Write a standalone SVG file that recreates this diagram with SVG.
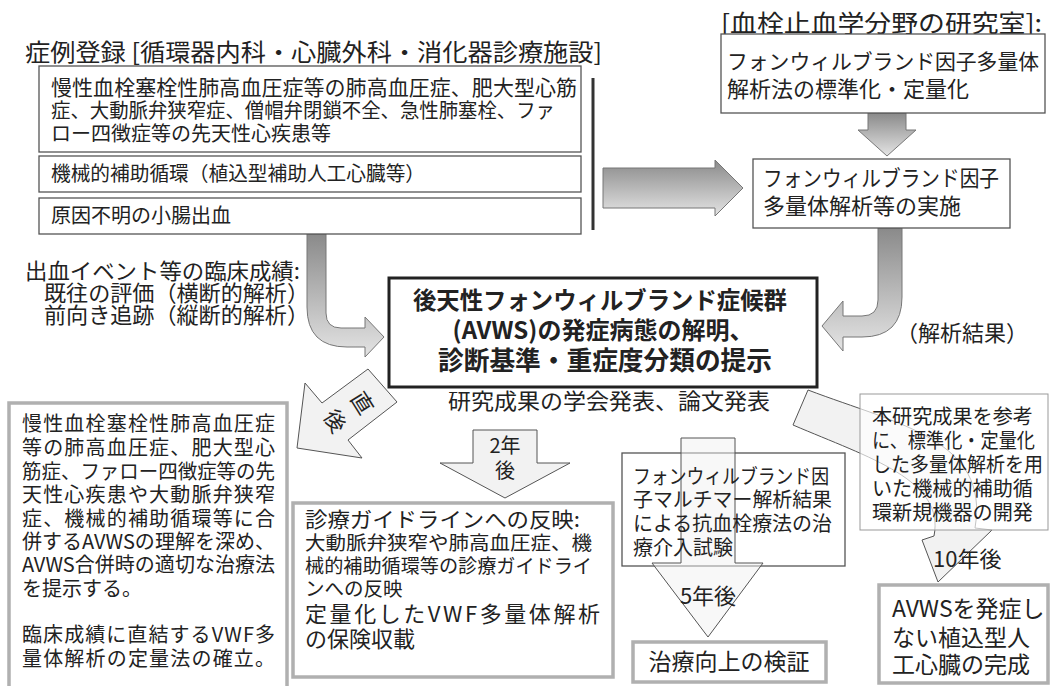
<svg xmlns="http://www.w3.org/2000/svg" width="1052" height="686" viewBox="0 0 1052 686">
<defs>
<style>
text{font-family:"Noto Sans CJK JP","Noto Sans",sans-serif;fill:#222}
.t20{font-size:20px}
.t22{font-size:22px}
.t24{font-size:24px}
.bold{font-weight:bold}
.box{fill:#fff;stroke:#555;stroke-width:1.3}
.gbox{fill:#fff;stroke:#b0b0b0;stroke-width:3.5}
.cbox{fill:#fff;stroke:#222;stroke-width:3}
.larr{fill:#f2f2f2;stroke:#555;stroke-width:1}
.garr{stroke:#777;stroke-width:1}
</style>
<linearGradient id="gv" x1="0" y1="0" x2="0" y2="1">
<stop offset="0" stop-color="#8a8a8a"/>
<stop offset="1" stop-color="#e4e4e4"/>
</linearGradient>
</defs>

<g id="connectors">
<path class="garr" fill="url(#gv)" d="M868,113 H906 V130 H916 L887,156 L858,130 H868 Z"/>
<path class="garr" fill="url(#gv)" d="M603,168 H715 V160 L743,188 L715,216 V208 H603 Z"/>
<path class="garr" fill="url(#gv)" d="M307,234 H326 V313 Q326,328 341,328 H365 V317 L384,337 L365,357 V347 H347 Q307,347 307,307 Z"/>
<path class="garr" fill="url(#gv)" d="M878,228 H902 V297 Q902,337 862,337 H843 V351 L822,326 L843,301 V316 H862 Q878,316 878,300 Z"/>
<path class="larr" d="M297,448 L305,383 L322,403 L368,369 L397,402 L348,440 L362,458 Z"/>
<path class="larr" d="M473,430 H537 V463 H570 L505,498 L440,463 H473 Z"/>
<path class="larr" d="M808,390 C900,425 990,440 975,528 L992,530 L938,582 L922,540 L934,536 C945,480 870,458 793,425 Z"/>
</g>

<text class="t24" x="25" y="61" textLength="577" lengthAdjust="spacingAndGlyphs">症例登録 [循環器内科・心臓外科・消化器診療施設]</text>
<text class="t24" x="721" y="32" textLength="321" lengthAdjust="spacingAndGlyphs">[血栓止血学分野の研究室]:</text>

<g id="case1">
<rect class="box" x="39" y="66" width="542" height="86"/>
<text x="51" y="95" font-size="21" textLength="526" lengthAdjust="spacing">慢性血栓塞栓性肺高血圧症等の肺高血圧症、肥大型心筋</text>
<text class="t20" x="51" y="118" textLength="504" lengthAdjust="spacingAndGlyphs">症、大動脈弁狭窄症、僧帽弁閉鎖不全、急性肺塞栓、ファ</text>
<text class="t20" x="51" y="141">ロー四徴症等の先天性心疾患等</text>
</g>
<g id="case2">
<rect class="box" x="39" y="156" width="542" height="36"/>
<text class="t20" x="51" y="181" textLength="374" lengthAdjust="spacingAndGlyphs">機械的補助循環（植込型補助人工心臓等）</text>
</g>
<g id="case3">
<rect class="box" x="39" y="198" width="542" height="36"/>
<text class="t20" x="51" y="223">原因不明の小腸出血</text>
</g>
<line x1="593" y1="78" x2="593" y2="230" stroke="#333" stroke-width="3"/>

<g id="lab1">
<rect class="box" x="721" y="34" width="324" height="79"/>
<text x="727" y="69" font-size="21" textLength="312" lengthAdjust="spacingAndGlyphs">フォンウィルブランド因子多量体</text>
<text class="t22" x="727" y="97">解析法の標準化・定量化</text>
</g>
<g id="lab2">
<rect class="box" x="753" y="159" width="257" height="69"/>
<text class="t22" x="763" y="186" textLength="236" lengthAdjust="spacingAndGlyphs">フォンウィルブランド因子</text>
<text class="t22" x="763" y="214">多量体解析等の実施</text>
</g>

<g id="clinical">
<text class="t22" x="25" y="279" textLength="275" lengthAdjust="spacingAndGlyphs">出血イベント等の臨床成績:</text>
<text class="t22" x="44" y="301" textLength="265" lengthAdjust="spacingAndGlyphs">既往の評価（横断的解析）</text>
<text class="t22" x="44" y="323" textLength="265" lengthAdjust="spacingAndGlyphs">前向き追跡（縦断的解析）</text>
</g>
<text class="t22" x="896" y="341">（解析結果）</text>

<g id="center">
<rect class="cbox" x="389" y="278" width="428" height="109"/>
<text class="t24 bold" x="413" y="309" textLength="374" lengthAdjust="spacingAndGlyphs">後天性フォンウィルブランド症候群</text>
<text class="t24 bold" x="603" y="339" text-anchor="middle">(AVWS)の発症病態の解明、</text>
<text class="bold" x="438" y="370" font-size="26" textLength="334" lengthAdjust="spacingAndGlyphs">診断基準・重症度分類の提示</text>
</g>
<text class="t22" x="448" y="409" textLength="322" lengthAdjust="spacingAndGlyphs">研究成果の学会発表、論文発表</text>

<text class="t22" transform="translate(362,403) rotate(58)" text-anchor="middle" y="8">直</text>
<text class="t22" transform="translate(335,421) rotate(58)" text-anchor="middle" y="8">後</text>
<text class="t20" x="505" y="453" text-anchor="middle">2年</text>
<text class="t20" x="505" y="478" text-anchor="middle">後</text>

<g id="out1">
<rect class="gbox" x="9" y="403" width="278" height="300"/>
<text class="t20" x="22" y="431" textLength="253" lengthAdjust="spacing">慢性血栓塞栓性肺高血圧症</text>
<text class="t20" x="22" y="455" textLength="253" lengthAdjust="spacing">等の肺高血圧症、肥大型心</text>
<text class="t20" x="22" y="479" textLength="253" lengthAdjust="spacingAndGlyphs">筋症、ファロー四徴症等の先</text>
<text class="t20" x="22" y="502" textLength="253" lengthAdjust="spacing">天性心疾患や大動脈弁狭窄</text>
<text class="t20" x="22" y="526" textLength="253" lengthAdjust="spacing">症、機械的補助循環等に合</text>
<text class="t20" x="22" y="549" textLength="253" lengthAdjust="spacing">併するAVWSの理解を深め、</text>
<text class="t20" x="22" y="572" textLength="253" lengthAdjust="spacingAndGlyphs">AVWS合併時の適切な治療法</text>
<text class="t20" x="22" y="596">を提示する。</text>
<text class="t20" x="22" y="642" textLength="253" lengthAdjust="spacing">臨床成績に直結するVWF多</text>
<text class="t20" x="22" y="666" textLength="253" lengthAdjust="spacing">量体解析の定量法の確立。</text>
</g>

<g id="out2">
<rect class="gbox" x="293" y="503" width="320" height="174"/>
<text x="305" y="527" font-size="21" textLength="275" lengthAdjust="spacingAndGlyphs">診療ガイドラインへの反映:</text>
<text x="305" y="550" font-size="19.5" textLength="287" lengthAdjust="spacingAndGlyphs">大動脈弁狭窄や肺高血圧症、機</text>
<text x="305" y="573" font-size="19.5" textLength="287" lengthAdjust="spacingAndGlyphs">械的補助循環等の診療ガイドライ</text>
<text x="305" y="596" font-size="19.5">ンへの反映</text>
<text class="t22" x="305" y="622" textLength="295" lengthAdjust="spacing">定量化したVWF多量体解析</text>
<text class="t22" x="305" y="647">の保険収載</text>
</g>

<g id="trial">
<rect class="box" x="622" y="453" width="223" height="113"/>
<path class="larr" fill-opacity="0.5" d="M681,438 H735 V563 H763 L708,637 L652,563 H681 Z"/>
<text class="t20" x="633" y="484" textLength="196" lengthAdjust="spacingAndGlyphs">フォンウィルブランド因</text>
<text class="t20" x="633" y="507" textLength="199" lengthAdjust="spacingAndGlyphs">子マルチマー解析結果</text>
<text class="t20" x="633" y="531" textLength="199" lengthAdjust="spacingAndGlyphs">による抗血栓療法の治</text>
<text class="t20" x="633" y="555">療介入試験</text>
</g>
<text class="t22" x="708" y="604" text-anchor="middle">5年後</text>

<g id="out3">
<rect class="gbox" x="633" y="642" width="193" height="40"/>
<text x="729" y="670" font-size="23" text-anchor="middle">治療向上の検証</text>
</g>

<g id="dev">
<rect x="860" y="394" width="188" height="136" fill="#fff" fill-opacity="0.65" stroke="#999" stroke-width="1"/>
<text class="t20" x="872" y="424" textLength="161" lengthAdjust="spacingAndGlyphs">本研究成果を参考</text>
<text class="t20" x="872" y="448" textLength="163" lengthAdjust="spacingAndGlyphs">に、標準化・定量化</text>
<text class="t20" x="872" y="472" textLength="171" lengthAdjust="spacingAndGlyphs">した多量体解析を用</text>
<text class="t20" x="872" y="496" textLength="161" lengthAdjust="spacingAndGlyphs">いた機械的補助循</text>
<text class="t20" x="872" y="520" textLength="161" lengthAdjust="spacingAndGlyphs">環新規機器の開発</text>
</g>
<text class="t22" x="933" y="567">10年後</text>

<g id="out4">
<rect class="gbox" x="879" y="585" width="169" height="98"/>
<text x="892" y="617" font-size="23">AVWSを発症し</text>
<text x="892" y="646" font-size="23">ない植込型人</text>
<text x="892" y="673" font-size="23">工心臓の完成</text>
</g>
</svg>
